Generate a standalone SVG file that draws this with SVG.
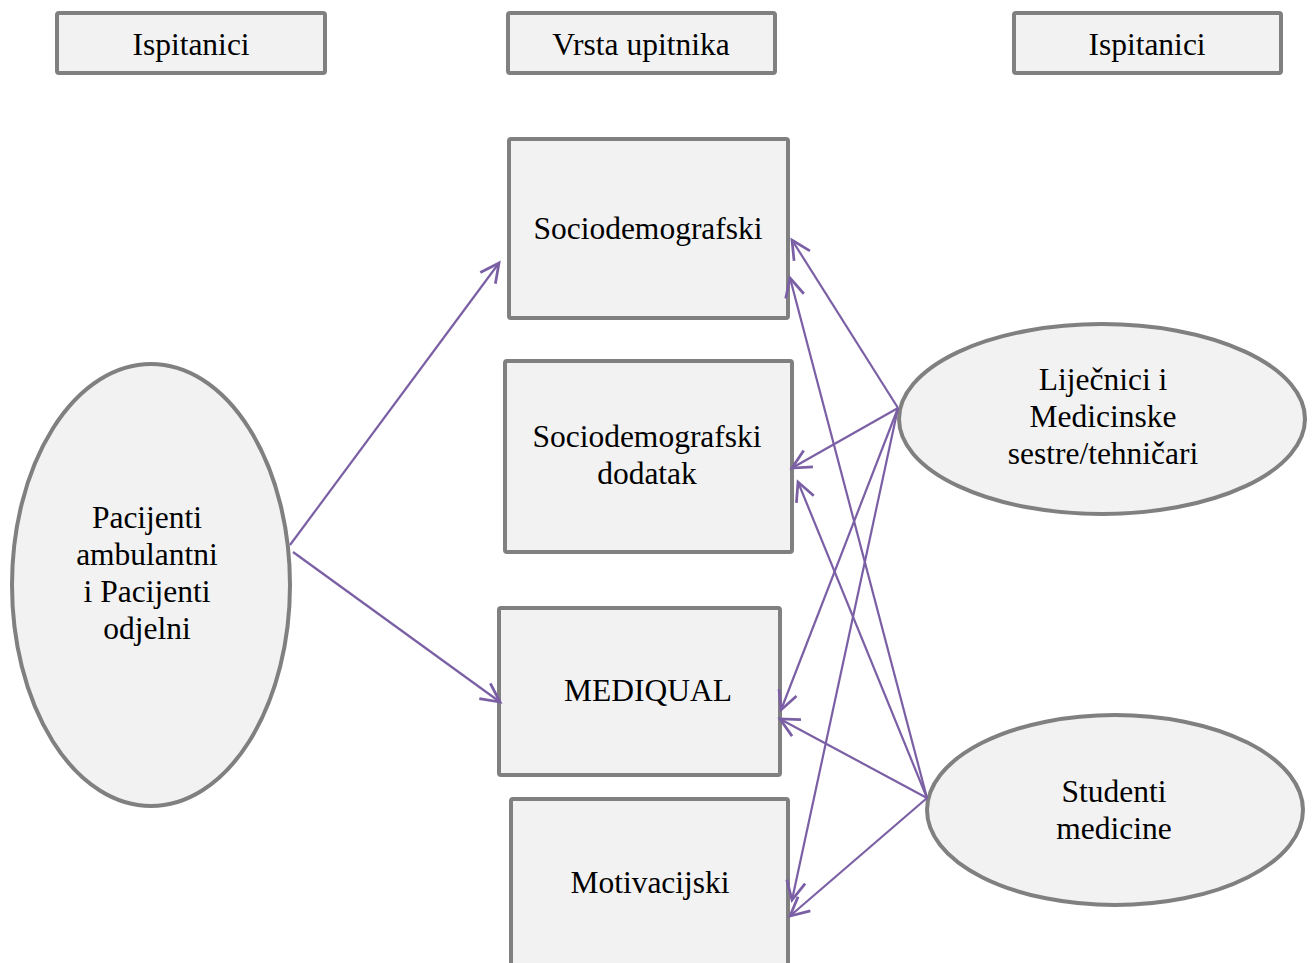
<svg xmlns="http://www.w3.org/2000/svg" width="1315" height="963" viewBox="0 0 1315 963">
<style>
.box{fill:#f2f2f2;stroke:#808080;stroke-width:4}
.t{font-family:"Liberation Serif","Times New Roman",serif;font-size:31.5px;fill:#000;text-anchor:middle}
.c{stroke:#7b5fa5;stroke-width:2.2;fill:none;marker-end:url(#ah)}
</style>
<defs>
<marker id="ah" markerUnits="userSpaceOnUse" markerWidth="30" markerHeight="30" viewBox="-20 -10 24 20" refX="0" refY="0" orient="auto">
<path d="M-15,-7.5 L0,0 L-15,7.5" fill="none" stroke="#7b5fa5" stroke-width="2.2"/>
</marker>
</defs>
<rect width="1315" height="963" fill="#fff"/>
<g id="n-isp-left"><rect class="box" x="57" y="13" width="268" height="60" rx="2"/><text class="t" x="191" y="55">Ispitanici</text></g>
<g id="n-vrsta"><rect class="box" x="508" y="13" width="267" height="60" rx="2"/><text class="t" x="641" y="55">Vrsta upitnika</text></g>
<g id="n-isp-right"><rect class="box" x="1014" y="13" width="267" height="60" rx="2"/><text class="t" x="1147" y="55">Ispitanici</text></g>
<g id="n-socio"><rect class="box" x="509" y="139" width="279" height="179" rx="2"/><text class="t" x="648" y="239">Sociodemografski</text></g>
<g id="n-socio-dod"><rect class="box" x="505" y="361" width="287" height="191" rx="2"/><text class="t" x="647" y="447">Sociodemografski</text><text class="t" x="647" y="484">dodatak</text></g>
<g id="n-mediqual"><rect class="box" x="499" y="608" width="281" height="167" rx="2"/><text class="t" x="648" y="701">MEDIQUAL</text></g>
<g id="n-motiv"><rect class="box" x="511" y="799" width="277" height="180" rx="2"/><text class="t" x="650" y="893">Motivacijski</text></g>
<g id="n-pacijenti"><ellipse class="box" cx="151" cy="585" rx="139" ry="221"/><text class="t" x="147" y="528">Pacijenti</text><text class="t" x="147" y="565">ambulantni</text><text class="t" x="147" y="602">i Pacijenti</text><text class="t" x="147" y="639">odjelni</text></g>
<g id="n-lijecnici"><ellipse class="box" cx="1102" cy="419" rx="203" ry="95"/><text class="t" x="1103" y="390">Liječnici i</text><text class="t" x="1103" y="427">Medicinske</text><text class="t" x="1103" y="464">sestre/tehničari</text></g>
<g id="n-studenti"><ellipse class="box" cx="1115" cy="810" rx="188" ry="95"/><text class="t" x="1114" y="802">Studenti</text><text class="t" x="1114" y="839">medicine</text></g>
<g id="connectors">
<line class="c" x1="290" y1="545" x2="499" y2="263"/>
<line class="c" x1="293" y1="552" x2="500" y2="702"/>
<line class="c" x1="898" y1="408" x2="792" y2="240"/>
<line class="c" x1="898" y1="408" x2="792" y2="468"/>
<line class="c" x1="898" y1="408" x2="781" y2="710"/>
<line class="c" x1="898" y1="408" x2="792" y2="900"/>
<line class="c" x1="927" y1="798" x2="790" y2="278"/>
<line class="c" x1="927" y1="798" x2="798" y2="482"/>
<line class="c" x1="927" y1="798" x2="780" y2="719"/>
<line class="c" x1="927" y1="798" x2="790" y2="916"/>
</g>
</svg>
